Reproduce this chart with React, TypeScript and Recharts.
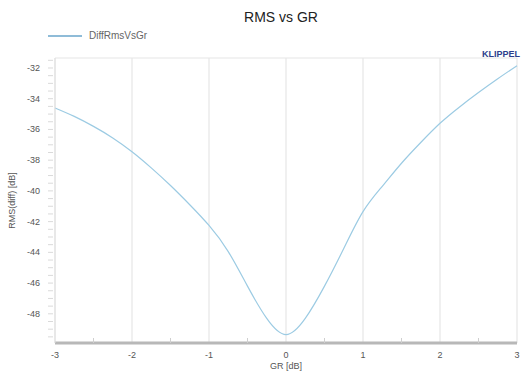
import { CartesianGrid, Legend, Line, LineChart, XAxis, YAxis } from 'recharts';

const gr = [
  -3, -2.75, -2.5, -2.25, -2, -1.75, -1.5, -1.25, -1, -0.75, -0.5, -0.25, 0, 0.25, 0.5, 0.75, 1, 1.25, 1.5, 1.75,
  2, 2.25, 2.5, 2.75, 3,
];
const rmsDiff = [
  -34.6, -35.15, -35.8, -36.55, -37.45, -38.5, -39.65, -40.9, -42.25, -43.95, -46.2, -48.3, -49.35, -48.3, -46.2,
  -43.75, -41.35, -39.7, -38.2, -36.85, -35.6, -34.55, -33.6, -32.7, -31.85,
];

const xTicks = [-3, -2.5, -2, -1.5, -1, -0.5, 0, 0.5, 1, 1.5, 2, 2.5, 3];
const xMajor = [-3, -2, -1, 0, 1, 2, 3];
const yTicks = [
  -49.5, -49, -48.5, -48, -47.5, -47, -46.5, -46, -45.5, -45, -44.5, -44, -43.5, -43, -42.5, -42, -41.5, -41, -40.5,
  -40, -39.5, -39, -38.5, -38, -37.5, -37, -36.5, -36, -35.5, -35, -34.5, -34, -33.5, -33, -32.5, -32, -31.5,
];
const yMajor = [-48, -46, -44, -42, -40, -38, -36, -34, -32, -31.35];
const yDomain: [number, number] = [-49.9, -31.35];

const data = gr.map((g, i) => ({ gr: g, rms: rmsDiff[i] }));

const font = 'Arial, "Liberation Sans", sans-serif';

function XTick({ x, y, payload }: any) {
  const v = payload.value as number;
  const major = Number.isInteger(v);
  return (
    <g>
      {!major && <line x1={x} x2={x} y1={y} y2={y - 5} stroke="#cfcfcf" strokeWidth={1} />}
      {major && (
        <text x={x} y={y + 15} textAnchor="middle" fontSize={9} fill="#555" fontFamily={font}>
          {v}
        </text>
      )}
    </g>
  );
}

function YTick({ x, y, payload }: any) {
  const v = payload.value as number;
  const major = Number.isInteger(v) && v % 2 === 0;
  return (
    <g>
      <line x1={x - 7} x2={x - 2} y1={y} y2={y} stroke="#dadada" strokeWidth={1} />
      {major && (
        <text x={x - 15} y={y + 3} textAnchor="end" fontSize={9} fill="#555" fontFamily={font}>
          {v}
        </text>
      )}
    </g>
  );
}

export default function App() {
  return (
    <div style={{ position: 'absolute', left: 0, top: 0, width: 526, height: 372, background: '#fff', fontFamily: font }}>
      <div
        style={{
          position: 'absolute',
          left: 0,
          width: 562,
          top: 9,
          textAlign: 'center',
          fontSize: 14,
          color: '#222',
        }}
      >
        RMS vs GR
      </div>
      <div
        style={{
          position: 'absolute',
          left: 482,
          top: 49,
          fontSize: 9,
          fontWeight: 'bold',
          color: '#2c3e8c',
          whiteSpace: 'nowrap',
          zIndex: 2,
        }}
      >
        KLIPPEL
      </div>
      <LineChart width={526} height={372} data={data} margin={{ top: 47, right: 9, left: 0, bottom: 0 }}>
        <CartesianGrid stroke="#e6e6e6" strokeWidth={1.2} xAxisId="grid" yAxisId="grid" />
        <XAxis xAxisId="grid" dataKey="gr" type="number" domain={[-3, 3]} ticks={xMajor} hide />
        <YAxis yAxisId="grid" type="number" domain={yDomain} ticks={yMajor} hide />
        <XAxis
          dataKey="gr"
          type="number"
          domain={[-3, 3]}
          ticks={xTicks}
          interval={0}
          height={29}
          tickSize={0}
          tickMargin={0}
          tickLine={false}
          axisLine={{ stroke: '#b8b8b8', strokeWidth: 3 }}
          tick={<XTick />}
          label={{ value: 'GR [dB]', position: 'insideBottom', offset: 3, fontSize: 9, fill: '#555', fontFamily: font }}
        />
        <YAxis
          type="number"
          domain={yDomain}
          ticks={yTicks}
          interval={0}
          width={55}
          tickSize={0}
          tickMargin={0}
          tickLine={false}
          axisLine={{ stroke: '#e0e0e0', strokeWidth: 1 }}
          tick={<YTick />}
          label={{
            value: 'RMS(diff) [dB]',
            angle: -90,
            position: 'insideLeft',
            offset: 12,
            fontSize: 9,
            fill: '#555',
            fontFamily: font,
            style: { textAnchor: 'middle' },
          }}
        />
        <Legend
          verticalAlign="top"
          wrapperStyle={{ position: 'absolute', top: 30, left: 48, width: 200 }}
          content={() => (
            <div style={{ display: 'flex', alignItems: 'center', fontSize: 10, color: '#666', fontFamily: font }}>
              <span style={{ display: 'inline-block', width: 34, height: 2, background: '#8fbcd8', marginRight: 7 }} />
              DiffRmsVsGr
            </div>
          )}
        />
        <Line
          type="natural"
          dataKey="rms"
          name="DiffRmsVsGr"
          stroke="#9ccbe3"
          strokeWidth={1.2}
          dot={false}
          isAnimationActive={false}
        />
      </LineChart>
    </div>
  );
}
